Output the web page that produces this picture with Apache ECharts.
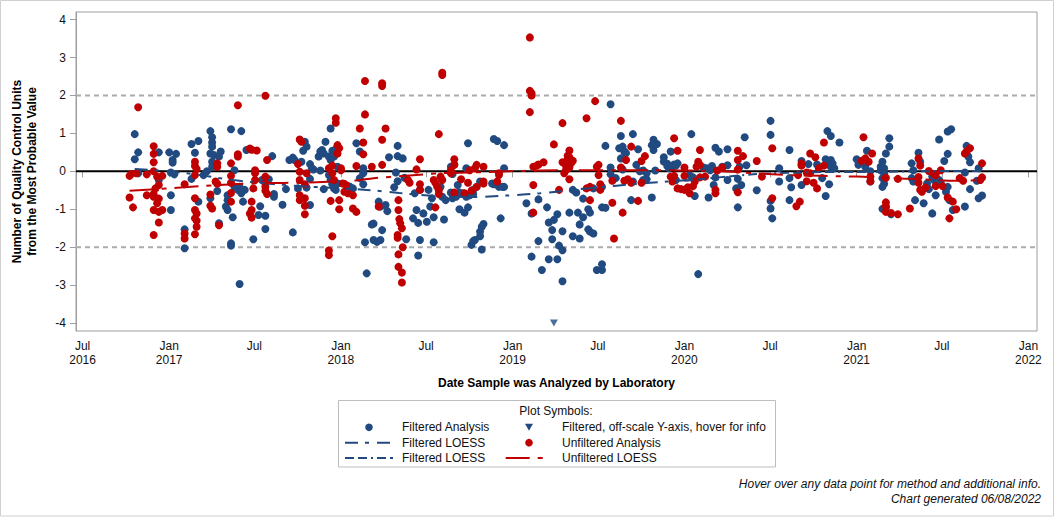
<!DOCTYPE html>
<html>
<head>
<meta charset="utf-8">
<script src="https://cdn.jsdelivr.net/npm/echarts@6/dist/echarts.min.js"></script>
<style>
html,body{margin:0;padding:0;background:#fff;}
#chart{width:1056px;height:518px;}
</style>
</head>
<body>
<div id="chart"></div>
<script>
// ---------- data (x = decimal year of analysis date, y = QC units from MPV) ----------
const xTickDates = ['2016-07-01','2017-01-01','2017-07-01','2018-01-01','2018-07-01','2019-01-01','2019-07-01','2020-01-01','2020-07-01','2021-01-01','2021-07-01','2022-01-01'];
const xTickLabels = ['Jul\n2016','Jan\n2017','Jul','Jan\n2018','Jul','Jan\n2019','Jul','Jan\n2020','Jul','Jan\n2021','Jul','Jan\n2022'];
const yTickValues = [-4,-3,-2,-1,0,1,2,3,4];
const referenceLines = [0, 2, -2];

const filteredAnalysis = [
[2016.80,0.98],[2016.80,0.32],[2016.82,0.50],[2016.82,-0.05],[2016.94,0.50],[2016.94,-0.23],[2017.00,0.50],[2017.01,-0.03],
[2017.02,0.30],[2017.02,0.23],[2017.04,0.46],[2017.03,-0.08],[2017.01,-0.63],[2017.01,-1.02],[2017.09,-1.53],[2017.09,-2.03],
[2017.13,0.72],[2017.17,0.80],[2017.15,0.49],[2017.13,-0.20],[2017.17,-0.80],[2017.20,-0.10],[2017.22,0.00],[2017.24,1.06],
[2017.25,0.90],[2017.25,0.76],[2017.25,0.65],[2017.24,0.47],[2017.26,0.43],[2017.25,0.25],[2017.25,0.12],[2017.30,0.52],
[2017.29,0.39],[2017.28,-0.52],[2017.24,-0.71],[2017.29,-1.37],[2017.34,-0.63],[2017.34,-0.76],[2017.33,-0.93],[2017.34,-1.02],
[2017.37,-1.21],[2017.36,1.11],[2017.36,-1.90],[2017.36,-1.96],[2017.38,0.03],[2017.42,1.06],[2017.38,-0.41],[2017.40,-0.49],
[2017.41,-0.41],[2017.42,-0.58],[2017.44,-0.49],[2017.43,-0.80],[2017.41,-2.97],[2017.45,0.56],[2017.49,-1.79],[2017.52,-1.15],
[2017.53,-0.92],[2017.56,-1.17],[2017.56,-1.52],[2017.54,-0.23],[2017.58,-0.21],[2017.60,0.40],[2017.61,-0.60],[2017.61,-0.67],
[2017.66,-0.88],[2017.68,-0.47],[2017.72,-1.61],[2017.70,0.30],[2017.72,0.36],[2017.73,0.30],[2017.75,-0.45],[2017.77,0.25],
[2017.79,0.78],[2017.80,0.65],[2017.78,0.54],[2017.82,0.19],[2017.83,0.08],[2017.84,0.05],[2017.80,-0.43],[2017.82,-0.20],
[2017.82,-0.89],[2017.87,0.39],[2017.88,0.52],[2017.89,0.56],[2017.90,0.47],[2017.91,0.78],[2017.93,0.39],[2017.94,0.30],
[2017.95,0.54],[2017.96,0.39],[2017.97,0.58],[2017.88,0.02],[2017.90,-0.47],[2017.94,1.13],[2017.93,-0.10],[2017.94,-0.23],
[2017.95,-0.34],[2017.96,-0.45],[2017.97,-0.49],[2017.98,0.12],[2017.98,-0.32],[2018.05,-0.40],[2018.07,-0.45],[2018.09,0.74],
[2018.11,0.52],[2018.11,-0.18],[2018.13,0.08],[2018.13,-0.34],[2018.13,-0.05],[2018.15,-2.69],[2018.14,-1.87],[2018.18,-1.40],
[2018.19,-1.38],[2018.19,-1.81],[2018.21,-1.86],[2018.23,-1.81],[2018.24,-1.55],[2018.22,-0.80],[2018.23,-0.93],[2018.26,-0.89],
[2018.27,-1.05],[2018.28,0.37],[2018.32,-0.03],[2018.31,-0.42],[2018.33,0.67],[2018.33,0.40],[2018.36,0.34],[2018.33,-0.26],
[2018.38,-1.79],[2018.37,-0.17],[2018.42,-1.24],[2018.43,-0.58],[2018.44,-1.02],[2018.45,-2.22],[2018.46,-1.81],[2018.45,-1.36],
[2018.46,-0.49],[2018.48,-1.11],[2018.50,-1.33],[2018.51,-0.49],[2018.52,-0.93],[2018.53,-0.71],[2018.54,-1.21],[2018.54,-1.87],
[2018.58,-0.41],[2018.59,-0.67],[2018.60,-1.27],[2018.61,-0.76],[2018.64,0.12],[2018.66,0.18],[2018.64,-0.56],[2018.65,-0.07],
[2018.65,-0.71],[2018.67,-0.67],[2018.68,-0.36],[2018.69,-1.00],[2018.69,-0.56],[2018.71,-0.58],[2018.72,-1.09],[2018.73,-0.67],
[2018.73,0.08],[2018.74,0.74],[2018.74,-0.95],[2018.75,-0.63],[2018.76,-1.94],[2018.77,-1.84],[2018.77,-0.60],[2018.78,-1.81],
[2018.77,-0.49],[2018.79,-0.41],[2018.81,-0.27],[2018.81,-1.59],[2018.82,-1.46],[2018.83,-1.39],[2018.81,-1.71],[2018.82,-2.06],
[2018.88,-0.32],[2018.89,-0.34],[2018.89,0.85],[2018.91,0.80],[2018.95,0.69],[2018.92,-0.41],[2018.94,-0.41],[2018.95,-0.41],
[2018.93,-1.24],[2018.95,0.08],[2019.08,-0.84],[2019.11,-1.11],[2019.11,-2.25],[2019.15,-1.84],[2019.15,-0.74],[2019.17,-2.60],
[2019.20,-0.95],[2019.21,-2.32],[2019.21,-1.35],[2019.24,-1.28],[2019.26,-1.13],[2019.23,-1.55],[2019.23,-1.79],[2019.26,-2.32],
[2019.27,-1.96],[2019.29,-2.08],[2019.29,-2.90],[2019.29,-1.58],[2019.33,-1.09],[2019.38,-1.09],[2019.35,-1.71],[2019.39,-1.77],
[2019.35,-0.49],[2019.37,-0.56],[2019.39,-1.40],[2019.41,-1.21],[2019.41,-0.72],[2019.44,-1.00],[2019.45,-1.09],[2019.44,-1.53],
[2019.45,-1.59],[2019.47,-1.64],[2019.47,-0.45],[2019.49,-2.60],[2019.52,-2.60],[2019.52,-2.45],[2019.52,-0.95],[2019.54,-0.96],
[2019.52,-0.41],[2019.54,0.67],[2019.57,1.77],[2019.57,0.10],[2019.57,-0.08],[2019.60,-0.18],[2019.63,0.93],[2019.62,0.61],
[2019.64,0.65],[2019.65,0.52],[2019.66,0.48],[2019.63,0.34],[2019.64,0.05],[2019.70,0.98],[2019.70,-0.27],[2019.69,-0.76],
[2019.73,0.58],[2019.72,0.17],[2019.74,0.00],[2019.76,0.02],[2019.78,-0.05],[2019.76,-0.23],[2019.78,-0.21],[2019.81,-0.69],
[2019.81,0.69],[2019.82,0.83],[2019.84,0.72],[2019.82,0.56],[2019.83,0.02],[2019.88,0.37],[2019.88,0.26],[2019.90,0.20],
[2019.90,0.14],[2019.91,0.08],[2019.92,0.52],[2019.93,0.12],[2019.94,0.18],[2019.95,0.15],[2019.96,0.21],[2019.95,-0.23],
[2020.03,-0.10],[2020.05,-0.16],[2020.04,0.98],[2020.06,-0.65],[2020.08,-2.71],[2020.11,0.10],[2020.13,0.08],[2020.16,0.14],
[2020.15,0.03],[2020.14,-0.69],[2020.18,0.62],[2020.20,0.52],[2020.17,-0.36],[2020.18,-0.16],[2020.22,0.12],[2020.25,0.58],
[2020.25,0.16],[2020.25,-0.23],[2020.30,-0.45],[2020.31,-0.95],[2020.31,-0.20],[2020.32,0.12],[2020.33,-0.36],[2020.35,0.90],
[2020.36,0.16],[2020.42,-0.50],[2020.50,1.33],[2020.50,0.96],[2020.50,-0.78],[2020.50,-0.98],[2020.51,-1.24],[2020.55,0.08],
[2020.55,-0.27],[2020.61,0.56],[2020.61,-0.18],[2020.62,-0.42],[2020.61,-0.76],[2020.68,0.27],[2020.68,0.17],[2020.68,-0.36],
[2020.72,0.19],[2020.77,0.18],[2020.80,-0.18],[2020.82,0.32],[2020.83,0.27],[2020.85,0.30],[2020.86,0.21],[2020.85,0.12],
[2020.87,0.08],[2020.83,1.06],[2020.85,0.93],[2020.84,-0.34],[2020.82,-0.65],[2020.90,0.76],[2021.00,0.32],[2021.01,0.17],
[2021.06,0.54],[2021.05,0.12],[2021.08,0.00],[2021.08,-0.27],[2021.14,0.12],[2021.14,0.03],[2021.15,0.25],[2021.16,0.08],
[2021.16,-0.05],[2021.15,-0.18],[2021.16,-0.33],[2021.15,-0.41],[2021.17,0.47],[2021.19,0.65],[2021.19,0.87],[2021.15,-0.99],
[2021.17,-0.95],[2021.20,-1.13],[2021.32,0.21],[2021.33,0.03],[2021.32,-0.18],[2021.33,-0.27],[2021.34,-0.76],[2021.36,0.49],
[2021.37,0.25],[2021.39,-0.84],[2021.41,-0.32],[2021.42,-0.47],[2021.44,-0.14],[2021.45,-0.23],[2021.44,-1.11],[2021.46,-0.63],
[2021.48,0.84],[2021.48,-0.23],[2021.49,-0.30],[2021.51,0.27],[2021.53,0.46],[2021.52,-0.54],[2021.53,-0.41],[2021.54,-0.76],
[2021.56,-1.02],[2021.53,1.05],[2021.55,1.11],[2021.63,-0.93],[2021.63,-0.03],[2021.64,0.67],[2021.65,0.39],[2021.66,0.24],
[2021.66,-0.47],[2021.70,-0.25],[2021.71,0.08],[2021.71,-0.71],[2021.73,-0.64]
];

const filteredOffScale = [[2019.24,-4.0]];

const unfilteredAnalysis = [
[2016.77,-0.12],[2016.78,-0.07],[2016.77,-0.69],[2016.79,-0.95],[2016.82,1.69],[2016.81,-0.05],[2016.87,-0.08],[2016.87,-0.63],
[2016.91,0.66],[2016.91,0.46],[2016.91,0.24],[2016.91,0.00],[2016.93,-0.14],[2016.96,-0.12],[2016.92,-0.45],[2016.91,-0.60],
[2016.91,-0.67],[2016.93,-0.84],[2016.91,-1.02],[2016.94,-1.07],[2016.96,-1.02],[2016.94,-1.35],[2016.91,-1.68],[2016.94,-0.36],
[2016.94,-0.72],[2017.09,-0.34],[2017.09,-1.64],[2017.09,-1.77],[2017.15,0.25],[2017.15,0.14],[2017.16,0.06],[2017.15,-0.10],
[2017.15,-0.71],[2017.15,-1.02],[2017.16,-1.11],[2017.15,-1.24],[2017.16,-1.30],[2017.16,-1.46],[2017.15,-1.66],[2017.24,-0.61],
[2017.24,-0.91],[2017.25,-0.98],[2017.28,0.21],[2017.28,0.12],[2017.27,-0.27],[2017.28,-0.33],[2017.29,-1.42],[2017.36,0.21],
[2017.36,-0.12],[2017.36,-0.30],[2017.36,-0.57],[2017.36,-0.80],[2017.40,1.74],[2017.40,0.39],[2017.40,0.45],[2017.47,0.60],
[2017.48,0.57],[2017.51,0.55],[2017.48,-0.80],[2017.48,-1.02],[2017.47,-1.11],[2017.48,-1.22],[2017.49,-0.45],[2017.50,0.03],
[2017.50,-0.05],[2017.50,-0.23],[2017.56,1.99],[2017.56,-0.14],[2017.56,-0.32],[2017.56,-0.41],[2017.56,-0.51],[2017.57,-0.60],
[2017.57,0.30],[2017.76,0.84],[2017.77,0.78],[2017.75,0.19],[2017.76,-0.01],[2017.76,-0.23],[2017.76,-0.63],[2017.76,-0.76],
[2017.79,-0.71],[2017.79,-0.91],[2017.79,-1.13],[2017.79,-0.34],[2017.80,-0.05],[2017.93,0.08],[2017.95,0.15],[2017.95,-0.05],
[2017.96,-0.23],[2017.97,1.40],[2017.97,1.28],[2017.98,0.69],[2017.99,0.61],[2017.98,0.47],[2017.94,-0.78],[2017.95,-1.71],
[2017.93,-2.09],[2017.93,-2.21],[2017.99,-0.76],[2017.99,-1.00],[2018.01,-0.32],[2018.03,-0.36],[2018.04,-0.58],[2018.00,0.03],
[2018.00,0.08],[2018.02,-0.54],[2018.07,-0.63],[2018.07,-0.98],[2018.09,-1.07],[2018.09,0.14],[2018.11,1.13],[2018.14,2.38],
[2018.14,1.50],[2018.13,0.76],[2018.13,0.45],[2018.18,0.12],[2018.24,2.32],[2018.24,2.25],[2018.26,1.13],[2018.24,0.83],
[2018.24,0.17],[2018.22,-0.93],[2018.335,-0.76],[2018.335,-1.02],[2018.34,-1.26],[2018.345,-1.37],[2018.355,-1.50],[2018.33,-1.68],
[2018.33,-1.75],[2018.36,-2.00],[2018.335,-2.19],[2018.335,-2.52],[2018.355,-2.67],[2018.355,-2.93],[2018.39,-0.23],[2018.40,-0.30],
[2018.44,0.05],[2018.46,0.32],[2018.46,-0.34],[2018.46,-0.49],[2018.55,-0.95],[2018.54,-0.23],[2018.55,-0.30],[2018.56,-0.40],
[2018.57,-0.50],[2018.57,-0.60],[2018.57,0.98],[2018.59,2.60],[2018.59,2.54],[2018.58,-0.14],[2018.59,-0.23],[2018.64,-0.05],
[2018.66,0.32],[2018.66,0.17],[2018.64,0.03],[2018.66,-0.56],[2018.70,-0.21],[2018.72,-0.58],[2018.74,-0.30],[2018.76,-0.51],
[2018.75,0.03],[2018.78,0.08],[2018.79,0.17],[2018.83,0.12],[2018.79,-0.41],[2018.83,-0.27],[2018.83,-0.32],[2018.92,-0.10],
[2018.91,-0.27],[2018.92,-0.05],[2019.10,3.53],[2019.10,2.12],[2019.11,2.06],[2019.11,2.00],[2019.10,1.56],[2019.12,-0.36],
[2019.12,-1.09],[2019.12,0.12],[2019.14,0.15],[2019.15,0.18],[2019.18,0.24],[2019.24,0.71],[2019.27,-0.49],[2019.29,1.27],
[2019.29,0.24],[2019.31,0.15],[2019.317,0.28],[2019.32,0.41],[2019.33,0.55],[2019.33,0.10],[2019.35,0.28],[2019.34,0.21],
[2019.31,0.03],[2019.30,-0.05],[2019.33,-0.21],[2019.33,0.37],[2019.43,1.40],[2019.45,-0.76],[2019.43,-0.45],[2019.45,-0.41],
[2019.48,1.85],[2019.49,0.12],[2019.50,0.17],[2019.50,-0.10],[2019.51,-0.34],[2019.51,-0.49],[2019.59,-1.77],[2019.58,-0.83],
[2019.58,-0.25],[2019.63,1.33],[2019.64,-1.09],[2019.63,0.10],[2019.66,0.30],[2019.65,-0.25],[2019.67,-0.21],[2019.69,-0.30],
[2019.69,0.65],[2019.73,-0.78],[2019.75,0.27],[2019.77,0.40],[2019.75,-0.30],[2019.94,0.87],[2019.96,0.54],[2019.92,-0.14],
[2019.94,-0.12],[2019.93,-0.27],[2019.96,-0.45],[2019.98,-0.47],[2020.00,-0.49],[2020.02,-0.42],[2020.03,-0.58],[2020.05,-0.39],
[2020.06,-0.27],[2020.00,-0.12],[2020.00,0.10],[2020.09,-0.16],[2020.12,-0.14],[2020.09,0.56],[2020.09,0.17],[2020.07,0.12],
[2020.08,0.25],[2020.18,-0.49],[2020.18,-0.58],[2020.19,0.02],[2020.22,0.10],[2020.31,0.54],[2020.31,0.30],[2020.34,0.40],
[2020.31,0.05],[2020.31,-0.55],[2020.42,0.27],[2020.45,-0.14],[2020.51,0.61],[2020.51,-0.71],[2020.65,-0.92],[2020.67,-0.80],
[2020.66,-0.10],[2020.68,0.21],[2020.68,0.15],[2020.71,-0.03],[2020.73,-0.05],[2020.71,-0.26],[2020.75,-0.30],[2020.77,-0.45],
[2020.73,0.47],[2020.76,0.37],[2020.78,0.08],[2020.81,0.76],[2020.81,0.15],[2021.04,0.90],[2021.03,0.28],[2021.05,0.34],
[2021.07,0.25],[2021.09,0.47],[2021.08,-0.14],[2021.08,-0.26],[2021.17,-0.17],[2021.17,-0.82],[2021.17,-0.93],[2021.17,-1.07],
[2021.20,-1.10],[2021.24,-1.13],[2021.24,-0.20],[2021.31,-0.98],[2021.36,0.34],[2021.37,0.15],[2021.36,-0.15],[2021.36,-0.30],
[2021.37,-0.49],[2021.38,-0.54],[2021.40,-0.43],[2021.42,0.01],[2021.45,-0.07],[2021.46,-0.10],[2021.46,-0.39],[2021.49,0.03],
[2021.50,-0.39],[2021.53,-0.69],[2021.56,-0.80],[2021.58,-1.00],[2021.54,-1.24],[2021.60,-0.18],[2021.62,-0.25],[2021.63,0.47],
[2021.64,0.52],[2021.66,0.61],[2021.73,0.21],[2021.73,-0.16],[2021.72,-0.23]
];

const filteredLoessA = [
[2016.80,0.06],[2017.00,0.00],[2017.18,-0.10],[2017.37,-0.23],[2017.57,-0.32],[2017.76,-0.39],[2017.96,-0.44],[2018.15,-0.49],
[2018.34,-0.57],[2018.54,-0.65],[2018.77,-0.68],[2018.96,-0.64],[2019.16,-0.58],[2019.35,-0.49],[2019.51,-0.42],[2019.70,-0.34],
[2019.90,-0.27],[2020.05,-0.22]
];
const filteredLoessB = [
[2020.00,-0.25],[2020.20,-0.16],[2020.40,-0.08],[2020.60,-0.04],[2020.80,-0.02],[2021.00,-0.02],[2021.20,-0.01],[2021.40,0.00],
[2021.60,0.01],[2021.72,0.01]
];
const unfilteredLoess = [
[2016.77,-0.51],[2016.99,-0.45],[2017.18,-0.39],[2017.37,-0.34],[2017.57,-0.31],[2017.76,-0.30],[2017.96,-0.27],[2018.09,-0.24],
[2018.19,-0.18],[2018.38,-0.12],[2018.58,-0.05],[2018.77,-0.03],[2018.96,0.00],[2019.16,0.02],[2019.35,0.03],[2019.55,0.03],
[2019.74,0.03],[2019.93,0.03],[2020.03,0.02],[2020.22,0.00],[2020.41,-0.05],[2020.61,-0.10],[2020.80,-0.12],[2021.00,-0.14],
[2021.19,-0.18],[2021.38,-0.21],[2021.58,-0.25],[2021.73,-0.23]
];

// ---------- helpers ----------
function yearToTime(y) {
  const yr = Math.floor(y);
  const s = Date.UTC(yr, 0, 1), e = Date.UTC(yr + 1, 0, 1);
  return s + (y - yr) * (e - s);
}
function dateToTime(d) {
  const p = d.split('-').map(Number);
  return Date.UTC(p[0], p[1] - 1, p[2]);
}
const toPts = arr => arr.map(p => [yearToTime(p[0]), p[1]]);

const FONT = '"Liberation Sans", Arial, Helvetica, sans-serif';
const BLUE = '#214a80';
const RED = '#c00000';
const xTickTimes = xTickDates.map(dateToTime);
const xMin = yearToTime(2016.459), xMax = yearToTime(2022.05);

const chart = echarts.init(document.getElementById('chart'), null, {renderer: 'svg'});

const refSeries = referenceLines.map(v => ({
  type: 'line', silent: true, z: 1, symbol: 'none', animation: false,
  data: [[xMin, v], [xMax, v]],
  lineStyle: v === 0 ? {color: '#000', width: 2, type: 'solid'} : {color: '#ababab', width: 2, type: [5, 4]}
}));

const legendX1 = 369, legendX2 = 529, textX1 = 402, textX2 = 562;
const rowY = [427.3, 442.7, 458];
const legendText = (t, x, y) => ({type: 'text', silent: true, style: {text: t, x: x, y: y, fill: '#111', font: '12px ' + FONT, align: 'left', verticalAlign: 'middle'}});

const option = {
  animation: false,
  backgroundColor: '#fff',
  textStyle: {fontFamily: FONT},
  grid: {left: 76, right: 19, top: 12, bottom: 187, show: true, borderColor: '#9e9e9e', borderWidth: 1, containLabel: false},
  xAxis: {
    type: 'value', min: xMin, max: xMax, scale: true,
    name: 'Date Sample was Analyzed by Laboratory', nameLocation: 'middle', nameGap: 46,
    nameTextStyle: {fontWeight: 'bold', fontSize: 12, color: '#000', fontFamily: FONT},
    axisLine: {show: true, lineStyle: {color: '#9e9e9e'}},
    axisTick: {show: true, length: 6, lineStyle: {color: '#9e9e9e'}, customValues: xTickTimes},
    axisLabel: {
      customValues: xTickTimes, margin: 8, fontSize: 12, lineHeight: 14, color: '#111', fontFamily: FONT,
      formatter: function (v) {
        let best = 0, bd = Infinity;
        xTickTimes.forEach((t, i) => { const d = Math.abs(t - v); if (d < bd) { bd = d; best = i; } });
        return xTickLabels[best];
      }
    },
    splitLine: {show: false}
  },
  yAxis: {
    type: 'value', min: -4.21, max: 4.2,
    name: 'Number of Quality Control Units\nfrom the Most Probable Value', nameLocation: 'middle', nameGap: 37, nameRotate: 90,
    nameTextStyle: {fontWeight: 'bold', fontSize: 12, color: '#000', lineHeight: 15, fontFamily: FONT},
    axisLine: {show: true, lineStyle: {color: '#9e9e9e'}},
    axisTick: {show: true, length: 6, lineStyle: {color: '#9e9e9e'}, customValues: yTickValues},
    axisLabel: {customValues: yTickValues, margin: 10, fontSize: 12, color: '#111', fontFamily: FONT},
    splitLine: {show: false}
  },
  series: refSeries.concat([
    {name: 'Filtered Analysis', type: 'scatter', z: 2, symbol: 'circle', symbolSize: 8, itemStyle: {color: BLUE, opacity: 1}, data: toPts(filteredAnalysis)},
    {name: 'Filtered, off-scale Y-axis, hover for info', type: 'scatter', z: 2, symbol: 'triangle', symbolRotate: 180, symbolSize: [8, 7], itemStyle: {color: BLUE}, data: toPts(filteredOffScale)},
    {name: 'Unfiltered Analysis', type: 'scatter', z: 3, symbol: 'circle', symbolSize: 8, itemStyle: {color: RED, opacity: 1}, data: toPts(unfilteredAnalysis)},
    {name: 'Filtered LOESS', type: 'line', z: 4, symbol: 'none', smooth: 0.3, lineStyle: {color: BLUE, width: 2, type: [13, 7, 4, 8]}, data: toPts(filteredLoessA)},
    {name: 'Filtered LOESS ', type: 'line', z: 4, symbol: 'none', smooth: 0.3, lineStyle: {color: BLUE, width: 2, type: [9, 4, 9, 4, 2, 4]}, data: toPts(filteredLoessB)},
    {name: 'Unfiltered LOESS', type: 'line', z: 4, symbol: 'none', smooth: 0.3, lineStyle: {color: RED, width: 2, type: [24, 8, 5, 8]}, data: toPts(unfilteredLoess)}
  ]),
  graphic: [
    {type: 'rect', silent: true, shape: {x: 0.5, y: 0.5, width: 1053, height: 515.5}, style: {fill: 'none', stroke: '#d0d0d0', lineWidth: 1}},
    {type: 'rect', silent: true, shape: {x: 338.5, y: 400.5, width: 437, height: 66.5}, style: {fill: '#fff', stroke: '#bdbdbd', lineWidth: 1}},
    {type: 'text', silent: true, style: {text: 'Plot Symbols:', x: 556, y: 410.7, fill: '#111', font: '12px ' + FONT, align: 'center', verticalAlign: 'middle'}},
    {type: 'circle', silent: true, shape: {cx: legendX1, cy: rowY[0], r: 3.8}, style: {fill: BLUE}},
    legendText('Filtered Analysis', textX1, rowY[0]),
    {type: 'polygon', silent: true, shape: {points: [[legendX2 - 4, rowY[0] - 3.5], [legendX2 + 4, rowY[0] - 3.5], [legendX2, rowY[0] + 3.5]]}, style: {fill: BLUE}},
    legendText('Filtered, off-scale Y-axis, hover for info', textX2, rowY[0]),
    {type: 'line', silent: true, shape: {x1: 345, y1: rowY[1], x2: 393, y2: rowY[1]}, style: {stroke: BLUE, lineWidth: 2, lineDash: [13, 7, 4, 8]}},
    legendText('Filtered LOESS', textX1, rowY[1]),
    {type: 'circle', silent: true, shape: {cx: legendX2, cy: rowY[1], r: 3.8}, style: {fill: RED}},
    legendText('Unfiltered Analysis', textX2, rowY[1]),
    {type: 'line', silent: true, shape: {x1: 345, y1: rowY[2], x2: 393, y2: rowY[2]}, style: {stroke: BLUE, lineWidth: 2, lineDash: [9, 4, 9, 4, 2, 4]}},
    legendText('Filtered LOESS', textX1, rowY[2]),
    {type: 'line', silent: true, shape: {x1: 505.7, y1: rowY[2], x2: 543, y2: rowY[2]}, style: {stroke: RED, lineWidth: 2, lineDash: [24, 8, 5, 8]}},
    legendText('Unfiltered LOESS', textX2, rowY[2]),
    {type: 'text', silent: true, style: {text: 'Hover over any data point for method and additional info.', x: 1041, y: 483.5, fill: '#111', font: 'italic 12px ' + FONT, align: 'right', verticalAlign: 'middle'}},
    {type: 'text', silent: true, style: {text: 'Chart generated 06/08/2022', x: 1041, y: 498.5, fill: '#111', font: 'italic 12px ' + FONT, align: 'right', verticalAlign: 'middle'}}
  ]
};
chart.setOption(option);
</script>
</body>
</html>
